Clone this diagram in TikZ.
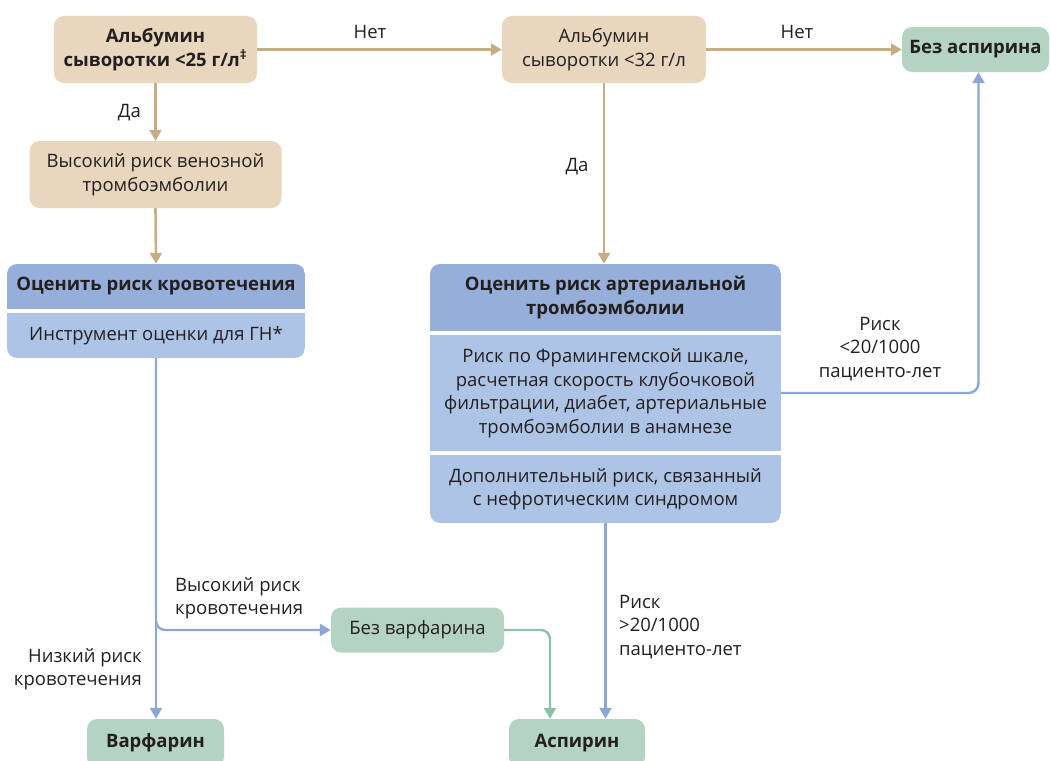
\documentclass[tikz,border=0pt]{standalone}
\usepackage{fontspec}
\setmainfont{Open Sans}
\usepackage{tikz}
\usetikzlibrary{
    positioning,
    arrows.meta,
    calc
}

\definecolor{tanfill}{HTML}{E8D6BE}
\definecolor{tanline}{HTML}{C6AE84}
\definecolor{hdrblue}{HTML}{95AEDA}
\definecolor{subblue}{HTML}{AEC4E6}
\definecolor{blueline}{HTML}{8DA7D5}
\definecolor{greenfill}{HTML}{B4D3C3}
\definecolor{greenline}{HTML}{8CC3A7}
\definecolor{txt}{HTML}{231F20}

\newcommand{\txtsize}{\fontsize{18.5}{23.5}\selectfont}

\begin{document}
\begin{tikzpicture}[x=1pt, y=-1pt, text=txt,
    tanbox/.style={fill=tanfill, rounded corners=10pt, align=center, inner sep=2pt, font=\txtsize},
    greenbox/.style={fill=greenfill, rounded corners=10pt, align=center, inner sep=2pt,
                     font=\txtsize},
    hdr/.style={fill=hdrblue, align=center, inner sep=0pt, font=\txtsize\bfseries},
    sub/.style={fill=subblue, align=center, inner sep=0pt, font=\txtsize},
    lab/.style={inner sep=0pt, font=\txtsize},
    tanarr/.style={-{Triangle[length=11pt, width=12pt]}, line width=2.6pt, draw=tanline},
    bluearr/.style={-{Triangle[length=11pt, width=12pt]}, line width=2.4pt, draw=blueline},
    greenarr/.style={-{Triangle[length=11pt, width=12pt]}, line width=2.4pt, draw=greenline}]

    \clip (0,0) rectangle (1051,760);

    % Albumin checks
    \node[tanbox, minimum width=203pt, minimum height=67pt, font=\txtsize\bfseries] (alb25) at (155.5,49.5)
      {Альбумин\\сыворотки <25 г/л\textsuperscript{‡}};
    \node[tanbox, minimum width=204pt, minimum height=67pt] (alb32) at (604,49.5)
      {Альбумин\\сыворотки <32 г/л};
    \node[greenbox, minimum width=147pt, minimum height=45pt, font=\txtsize\bfseries] (noasp) at (975.5,49.5)
      {Без аспирина};

    \node[tanbox, minimum width=252pt, minimum height=67pt] (vte) at (155.5,174.5)
      {Высокий риск венозной\\тромбоэмболии};

    % Bleeding risk
    \begin{scope}
      \clip[rounded corners=10pt] (7,264) rectangle (305,358);
      \node[hdr, minimum width=298pt, minimum height=45pt] (bleedhead) at (156,286.5)
        {Оценить риск кровотечения};
      \node[sub, minimum width=298pt, minimum height=45pt] (bleedtool) at (156,335.5)
        {Инструмент оценки для ГН*};
    \end{scope}

    % Arterial risk
    \begin{scope}
      \clip[rounded corners=10pt] (430,264) rectangle (781,523);
      \node[hdr, minimum width=351pt, minimum height=67pt] (arthead) at (605.5,297.5)
        {Оценить риск артериальной\\тромбоэмболии};
      \node[sub, minimum width=351pt, minimum height=116pt] (artfactors) at (605.5,393)
        {Риск по Фрамингемской шкале,\\расчетная скорость клубочковой\\фильтрации, диабет, артериальные\\тромбоэмболии в анамнезе};
      \node[sub, minimum width=351pt, minimum height=68pt] (artextra) at (605.5,489)
        {Дополнительный риск, связанный\\с нефротическим синдромом};
    \end{scope}

    % Outcomes
    \node[greenbox, minimum width=173pt, minimum height=45pt] (nowarf) at (417.5,630)
      {Без варфарина};
    \node[greenbox, minimum width=137pt, minimum height=48pt, font=\txtsize\bfseries] (warf) at (155.5,743)
      {Варфарин};
    \node[greenbox, minimum width=136pt, minimum height=48pt, font=\txtsize\bfseries] (asp) at (577,743)
      {Аспирин};

    % Tan connectors
    \draw[tanarr] (alb25.east) -- (alb32.west);
    \draw[tanarr] (alb32.east) -- (noasp.west);
    \draw[tanarr] (alb25.south) -- (vte.north);
    \draw[tanarr] (vte.south) -- (bleedhead.north);
    \draw[tanarr] (alb32.south) -- (alb32.south |- arthead.north);
    \node[lab] (no1) at (370,32) {Нет};
    \node[lab] (no2) at (797,32) {Нет};
    \node[lab, anchor=east] (yes1) at (141,113) {Да};
    \node[lab] (yes2) at (577,167) {Да};

    % Blue connectors
    \draw[bluearr] (bleedtool.south) -- (bleedtool.south |- warf.north);
    \draw[bluearr, rounded corners=9pt] (bleedtool.south) |- (nowarf.west);
    \draw[bluearr, rounded corners=10pt] (artfactors.east) -| ([xshift=3pt]noasp.south);
    \draw[bluearr] (artextra.south) -- (artextra.south |- asp.north);

    % Green connector
    \draw[greenarr, rounded corners=9pt] (nowarf.east) -| ([xshift=-27pt]asp.north);

    % Branch labels
    \node[lab, align=left, anchor=west] (highbleed) at (175,598) {Высокий риск\\кровотечения};
    \node[lab, align=right, anchor=east] (lowbleed) at (142,669) {Низкий риск\\кровотечения};
    \node[lab, align=center] (risklow) at (880,349) {Риск\\<20/1000\\пациенто-лет};
    \node[lab, align=left, anchor=west] (riskhigh) at (619,627) {Риск\\>20/1000\\пациенто-лет};

\end{tikzpicture}
\end{document}
